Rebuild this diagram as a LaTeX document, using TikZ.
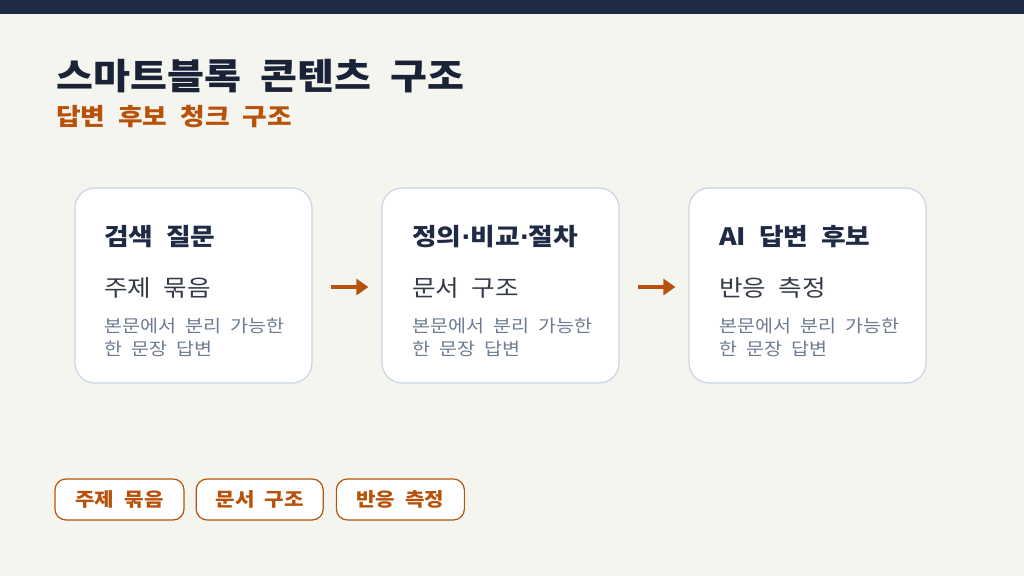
\documentclass[tikz,border=0pt]{standalone}
\usepackage{fontspec}
\setmainfont{Noto Sans CJK KR}[FakeStretch=1.12, WordSpace=2.1]
\usetikzlibrary{positioning}
\usetikzlibrary{arrows.meta}
\definecolor{navy}{HTML}{1F2A44}
\definecolor{paper}{HTML}{F5F5F0}
\definecolor{rust}{HTML}{B8520A}
\definecolor{edge}{HTML}{C9D5E4}
\definecolor{ink}{HTML}{343B47}
\definecolor{mute}{HTML}{6E7C92}
\tikzset{
  card/.style={draw=edge, line width=1.2pt, fill=white, rounded corners=20bp,
    minimum width=237bp, minimum height=195bp, inner sep=0pt},
  head/.style={anchor=base west, inner sep=0pt, text=navy, font=\fontsize{24}{27}\selectfont\bfseries},
  sub/.style={anchor=base west, inner sep=0pt, text=ink, font=\fontsize{23}{26}\selectfont},
  note/.style={anchor=north west, inner sep=0pt, text=mute, align=left,
    font=\fontsize{17.5}{23}\selectfont},
  flow/.style={draw=rust, line width=3.5pt, -{Triangle[length=12bp,width=16bp]}},
  tag/.style={draw=rust, line width=1.2pt, fill=white, rounded corners=11bp,
    minimum height=41bp, inner xsep=0pt, text=rust, font=\fontsize{19}{20}\selectfont\bfseries}
}
\begin{document}
\begin{tikzpicture}[x=1bp, y=-1bp]
  % page and top bar
  \fill[paper] (0,0) rectangle (1024,576);
  \fill[navy] (0,0) rectangle (1024,14);
  \useasboundingbox (0,0) rectangle (1024,576);

  % titles
  \node[anchor=base west, inner sep=0pt, text=navy!80!black,
    font=\fontsize{36}{40}\selectfont\bfseries] (Title) at (56,90) {스마트블록 콘텐츠 구조};
  \node[anchor=base west, inner sep=0pt, text=rust,
    font=\fontsize{24}{26}\selectfont\bfseries] (Subtitle) at (56,126) {답변 후보 청크 구조};

  % the three cards
  \node[card] (Query)  at (193.5,285.5) {};
  \node[card] (Doc)    at (500.5,285.5) {};
  \node[card] (Answer) at (807.5,285.5) {};

  \node[head] (QueryHead) at (104,246) {검색 질문};
  \node[sub]  (QuerySub)  at (104,297) {주제 묶음};
  \node[note] (QueryNote) at (104,318) {본문에서 분리 가능한\\한 문장 답변};

  \node[head] (DocHead) at (412,246) {정의{\fontspec{DejaVu Sans}\bfseries·}비교{\fontspec{DejaVu Sans}\bfseries·}절차};
  \node[sub]  (DocSub)  at (412,297) {문서 구조};
  \node[note] (DocNote) at (412,318) {본문에서 분리 가능한\\한 문장 답변};

  \node[head] (AnswerHead) at (719,246) {AI 답변 후보};
  \node[sub]  (AnswerSub)  at (719,297) {반응 측정};
  \node[note] (AnswerNote) at (719,318) {본문에서 분리 가능한\\한 문장 답변};

  % arrows between cards
  \draw[flow, shorten <=18bp, shorten >=13bp] ([yshift=-1.5]Query.east) -- ([yshift=-1.5]Doc.west);
  \draw[flow, shorten <=18bp, shorten >=13bp] ([yshift=-1.5]Doc.east) -- ([yshift=-1.5]Answer.west);

  % tags along the bottom
  \node[tag, minimum width=129bp] (TagTopic) at (119.5,499.5) {주제 묶음};
  \node[tag, minimum width=127bp, right=11bp of TagTopic] (TagDoc) {문서 구조};
  \node[tag, minimum width=128bp, right=12bp of TagDoc] (TagReact) {반응 측정};
\end{tikzpicture}
\end{document}
